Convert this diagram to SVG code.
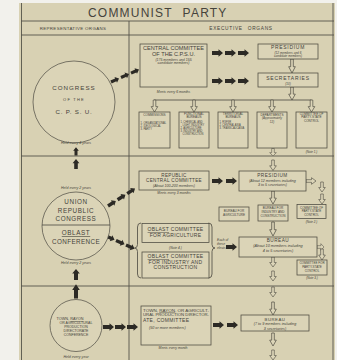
<svg xmlns="http://www.w3.org/2000/svg" width="337" height="360" viewBox="0 0 337 360">
<style>
.ln{stroke:#4a483f;stroke-width:0.8;fill:none}
.sec{stroke:#55534a;stroke-width:0.9;fill:none}
.bx{stroke:#4a483f;stroke-width:0.75;fill:#dbd4b7}
.cir{stroke:#55534a;stroke-width:0.75;fill:#dbd4b7}
.t{font-family:"Liberation Sans",Arial,sans-serif;fill:#45433b;text-anchor:middle}
.i{font-style:italic}
.l{text-anchor:start}
.ba{fill:#2c2a25}
.ha{fill:#dcd5b8;stroke:#4a483f;stroke-width:0.6}
</style>
<defs>
<path id="blk" d="M0,-2 H6.5 V-3.8 L11,0 L6.5,3.8 V2 H0 Z"/>
<path id="hol" d="M-1.3,0 V5.5 H-3.3 L0,10 L3.3,5.5 H1.3 V0 Z"/>
</defs>
<rect x="0" y="0" width="337" height="360" fill="#f2f1ec"/>
<rect x="19" y="3" width="316" height="357" fill="#d8d1b3"/>
<g id="frame">
<line class="sec" x1="21.5" y1="3" x2="21.5" y2="360"/>
<line class="sec" x1="21" y1="21" x2="334" y2="21"/>
<line class="sec" x1="21" y1="35" x2="334" y2="35"/>
<line class="sec" x1="129" y1="21" x2="129" y2="360"/>
<line class="sec" x1="21" y1="156" x2="334" y2="156"/>
<line class="sec" x1="21" y1="286" x2="334" y2="286"/>
<line class="sec" x1="333" y1="3" x2="333" y2="360"/>
</g>
<g id="title"><text class="t l" x="88" y="17.3" font-size="12" letter-spacing="1.2" word-spacing="5.5" fill="#66645a">COMMUNIST PARTY</text></g>
<g id="hdr-rep"><text class="t" x="73" y="30" font-size="4.4" letter-spacing="0.35">REPRESENTATIVE ORGANS</text></g>
<g id="hdr-exec"><text class="t" x="241" y="30.2" font-size="4.8" letter-spacing="0.7" word-spacing="3">EXECUTIVE ORGANS</text></g>

<g id="connectors">
<use href="#blk" class="ba" transform="translate(76,155.5) rotate(-90) scale(0.75)"/>
<use href="#blk" class="ba" transform="translate(76,169) rotate(-90) scale(0.9)"/>
<use href="#blk" class="ba" transform="translate(76,280) rotate(-90)"/>
<use href="#blk" class="ba" transform="translate(76,298.5) rotate(-90) scale(1.3,1)"/>
<use href="#blk" class="ba" transform="translate(111,82) rotate(-24) scale(0.8)"/>
<use href="#blk" class="ba" transform="translate(121,77.5) rotate(-24) scale(0.8)"/>
<use href="#blk" class="ba" transform="translate(131,73.1) rotate(-24) scale(0.8)"/>
<use href="#blk" class="ba" transform="translate(212,53)"/>
<use href="#blk" class="ba" transform="translate(225,53)"/>
<use href="#blk" class="ba" transform="translate(238,53)"/>
<use href="#blk" class="ba" transform="translate(212,81)"/>
<use href="#blk" class="ba" transform="translate(225,81)"/>
<use href="#blk" class="ba" transform="translate(238,81)"/>
<use href="#hol" class="ha" transform="translate(292,59) scale(1,1.4)"/>
<use href="#hol" class="ha" transform="translate(292,87) scale(1,1.3)"/>
<line class="ln" x1="154" y1="100" x2="311.5" y2="100"/>
<use href="#hol" class="ha" transform="translate(154.5,100) scale(1,1.2)"/>
<use href="#hol" class="ha" transform="translate(194,100) scale(1,1.2)"/>
<use href="#hol" class="ha" transform="translate(233,100) scale(1,1.2)"/>
<use href="#hol" class="ha" transform="translate(272,100) scale(1,1.2)"/>
<use href="#hol" class="ha" transform="translate(311.5,100) scale(1,1.2)"/>
<use href="#hol" class="ha" transform="translate(273,148.5) scale(1,0.75)"/>
<use href="#hol" class="ha" transform="translate(273,160) scale(1,1.05)"/>
<use href="#blk" class="ba" transform="translate(108,206) rotate(-33) scale(0.85)"/>
<use href="#blk" class="ba" transform="translate(117.6,199.8) rotate(-33) scale(0.85)"/>
<use href="#blk" class="ba" transform="translate(127.2,193.6) rotate(-33) scale(0.85)"/>
<use href="#blk" class="ba" transform="translate(106,236) rotate(24) scale(0.85)"/>
<use href="#blk" class="ba" transform="translate(116,240.5) rotate(24) scale(0.85)"/>
<use href="#blk" class="ba" transform="translate(126,245) rotate(24) scale(0.85)"/>
<use href="#blk" class="ba" transform="translate(212,181)"/>
<use href="#blk" class="ba" transform="translate(226,181)"/>
<use href="#hol" class="ha" transform="translate(306,181) rotate(-90)"/>
<use href="#hol" class="ha" transform="translate(322,182)"/>
<use href="#hol" class="ha" transform="translate(322,194)"/>
<use href="#hol" class="ha" transform="translate(273,191) scale(1,1.3)"/>
<use href="#hol" class="ha" transform="translate(273,222) scale(1,1.4)"/>
<use href="#blk" class="ba" transform="translate(226,247)"/>
<use href="#hol" class="ha" transform="translate(317,247) rotate(-90) scale(1,0.7)"/>
<use href="#hol" class="ha" transform="translate(322,249) scale(1,1.1)"/>
<use href="#hol" class="ha" transform="translate(273,257)"/>
<use href="#hol" class="ha" transform="translate(273,271)"/>
<use href="#hol" class="ha" transform="translate(273,287)"/>
<use href="#hol" class="ha" transform="translate(273,302) scale(1,1.3)"/>
<use href="#hol" class="ha" transform="translate(273,333) scale(1,1.3)"/>
<use href="#hol" class="ha" transform="translate(273,350)"/>
<use href="#blk" class="ba" transform="translate(103,327)"/>
<use href="#blk" class="ba" transform="translate(115,327)"/>
<use href="#blk" class="ba" transform="translate(127,327)"/>
<use href="#blk" class="ba" transform="translate(213,325)"/>
<use href="#blk" class="ba" transform="translate(227,325)"/>
</g>

<g id="congress">
<circle class="cir" cx="74" cy="102" r="41"/>
<text class="t" x="74" y="90.2" font-size="6.2" letter-spacing="1">CONGRESS</text>
<text class="t" x="74" y="100.6" font-size="4" letter-spacing="1.2">OF THE</text>
<text class="t" x="74" y="114.2" font-size="6.2" letter-spacing="0.8">C. P. S. U.</text>
<text class="t i" x="76" y="144" font-size="3.6">Held every 4 years</text>
</g>
<g id="central-committee">
<rect class="bx" x="140" y="44" width="67" height="43"/>
<text class="t" x="173.5" y="50" font-size="5.6">CENTRAL COMMITTEE</text>
<text class="t" x="173.5" y="56.2" font-size="5.6">OF THE C.P.S.U.</text>
<text class="t i" x="173.5" y="60.6" font-size="3.5">(175 members and 155</text>
<text class="t i" x="173.5" y="64.4" font-size="3.5">candidate members)</text>
<text class="t i" x="173.5" y="93.3" font-size="3.4">Meets every 6 months</text>
</g>
<g id="presidium">
<rect class="bx" x="258" y="44" width="60" height="15"/>
<text class="t" x="288" y="49.2" font-size="5" letter-spacing="0.7">PRESIDIUM</text>
<text class="t i" x="288" y="53.5" font-size="3.1">(12 members and 6</text>
<text class="t i" x="288" y="57.2" font-size="3.1">candidate members)</text>
</g>
<g id="secretaries">
<rect class="bx" x="258" y="73" width="60" height="14"/>
<text class="t" x="288" y="80" font-size="5" letter-spacing="0.8">SECRETARIES</text>
<text class="t i" x="288" y="85" font-size="3">(10)</text>
</g>
<g id="commissions">
<rect class="bx" x="139" y="112" width="31" height="36"/>
<text class="t" x="154.5" y="116.2" font-size="3.1">COMMISSIONS</text>
<text class="t l" x="140.6" y="123.6" font-size="2.6">1. ORGANIZATIONAL</text>
<text class="t l" x="140.6" y="126.7" font-size="2.6">2. IDEOLOGICAL</text>
<text class="t l" x="140.6" y="129.8" font-size="2.6">3. PARTY</text>
</g>
<g id="functional-bureaus">
<rect class="bx" x="179" y="112" width="30" height="36"/>
<text class="t" x="194" y="115.2" font-size="3.1">FUNCTIONAL</text>
<text class="t" x="194" y="118.4" font-size="3.1">BUREAUS</text>
<text class="t l" x="180.4" y="123" font-size="2.6">1. CHEMICAL AND</text>
<text class="t l" x="182.6" y="126" font-size="2.6">LIGHT INDUSTRY</text>
<text class="t l" x="180.4" y="129" font-size="2.6">2. AGRICULTURE</text>
<text class="t l" x="180.4" y="132" font-size="2.6">3. INDUSTRY AND</text>
<text class="t l" x="182.6" y="135" font-size="2.6">CONSTRUCTION</text>
</g>
<g id="territorial-bureaus">
<rect class="bx" x="218" y="112" width="30" height="36"/>
<text class="t" x="233" y="115.2" font-size="3.1">TERRITORIAL</text>
<text class="t" x="233" y="118.4" font-size="3.1">BUREAUS</text>
<text class="t l" x="219.4" y="123" font-size="2.6">1. RSFSR</text>
<text class="t l" x="219.4" y="126" font-size="2.6">2. CENTRAL ASIA</text>
<text class="t l" x="219.4" y="129" font-size="2.6">3. TRANSCAUCASIA</text>
</g>
<g id="departments">
<rect class="bx" x="257" y="112" width="30" height="36"/>
<text class="t" x="272" y="116" font-size="3.1">DEPARTMENTS</text>
<text class="t i" x="272" y="119.3" font-size="3">(Approximately</text>
<text class="t i" x="272" y="123" font-size="3">12)</text>
</g>
<g id="party-state-control-1">
<rect class="bx" x="296" y="112" width="31" height="36"/>
<text class="t" x="311.5" y="115.2" font-size="3.1">COMMITTEE OF</text>
<text class="t" x="311.5" y="118.4" font-size="3.1">PARTY-STATE</text>
<text class="t" x="311.5" y="122.3" font-size="3.1">CONTROL</text>
<text class="t i" x="311.5" y="153.3" font-size="3">(Note 1.)</text>
</g>

<g id="union-republic">
<circle class="cir" cx="76" cy="226" r="34"/>
<line class="ln" x1="42" y1="225" x2="110" y2="225"/>
<text class="t i" x="76" y="189.2" font-size="3.6">Held every 2 years</text>
<text class="t" x="76" y="204.3" font-size="6.3" letter-spacing="0.6">UNION</text>
<text class="t" x="76" y="212.8" font-size="6.3" letter-spacing="0.6">REPUBLIC</text>
<text class="t" x="76" y="221.3" font-size="6.3" letter-spacing="0.6">CONGRESS</text>
<text class="t" x="76" y="235.3" font-size="6.3" letter-spacing="0.6" text-decoration="underline">OBLAST</text>
<text class="t" x="76" y="244.3" font-size="6.3" letter-spacing="0.4">CONFERENCE</text>
<text class="t i" x="76" y="264.3" font-size="3.6">Held every 2 years</text>
</g>
<g id="republic-cc">
<rect class="bx" x="139" y="171" width="70" height="19"/>
<text class="t" x="174" y="176.6" font-size="4.6" letter-spacing="0.3">REPUBLIC</text>
<text class="t" x="174" y="181.8" font-size="4.6" letter-spacing="0.35">CENTRAL COMMITTEE</text>
<text class="t i" x="174" y="186.6" font-size="3.6">(About 100-200 members)</text>
<text class="t i" x="174" y="194.2" font-size="3.4">Meets every 3 months</text>
</g>
<g id="republic-presidium">
<rect class="bx" x="239" y="171" width="67" height="20"/>
<text class="t" x="272.5" y="176.8" font-size="4.7" letter-spacing="0.5">PRESIDIUM</text>
<text class="t i" x="272.5" y="181.6" font-size="3.6">(About 12 members including</text>
<text class="t i" x="272.5" y="186.3" font-size="3.6">3 to 5 secretaries)</text>
</g>
<g id="bureau-agriculture">
<rect class="bx" x="219" y="207" width="30" height="14"/>
<text class="t" x="234" y="212.3" font-size="3.1">BUREAU FOR</text>
<text class="t" x="234" y="216.3" font-size="3.1">AGRICULTURE</text>
</g>
<g id="bureau-industry">
<rect class="bx" x="258" y="205" width="30" height="16"/>
<text class="t" x="273" y="209.2" font-size="3.1">BUREAU FOR</text>
<text class="t" x="273" y="213" font-size="3.1">INDUSTRY AND</text>
<text class="t" x="273" y="216.8" font-size="3.1">CONSTRUCTION</text>
</g>
<g id="party-state-control-2">
<rect class="bx" x="297" y="204.5" width="29" height="14"/>
<text class="t" x="311.5" y="208.7" font-size="3">COMMITTEE OF</text>
<text class="t" x="311.5" y="212.3" font-size="3">PARTY-STATE</text>
<text class="t" x="311.5" y="215.9" font-size="3">CONTROL</text>
<text class="t i" x="311.5" y="223.3" font-size="3">(Note 2.)</text>
</g>
<g id="oblast-committees">
<path class="ln" d="M141,223 Q137.5,223 137.5,227 V244.5 Q137.5,248 134.5,248 Q137.5,248 137.5,251.5 V274 Q137.5,278 141,278"/>
<path class="ln" d="M208.5,223 Q212,223 212,227 V244.5 Q212,248 215,248 Q212,248 212,251.5 V274 Q212,278 208.5,278"/>
<rect class="bx" x="142" y="223.5" width="67" height="19"/>
<text class="t" x="175.5" y="231.3" font-size="5" letter-spacing="0.3"><tspan text-decoration="underline">OBLAST</tspan> COMMITTEE</text>
<text class="t" x="175.5" y="237.3" font-size="5" letter-spacing="0.3">FOR AGRICULTURE</text>
<text class="t i" x="175.5" y="248.6" font-size="3.3">(Note 4.)</text>
<rect class="bx" x="142" y="252" width="67" height="26"/>
<text class="t" x="175.5" y="258.3" font-size="5" letter-spacing="0.3"><tspan text-decoration="underline">OBLAST</tspan> COMMITTEE</text>
<text class="t" x="175.5" y="263.6" font-size="5" letter-spacing="0.3">FOR INDUSTRY AND</text>
<text class="t" x="175.5" y="268.9" font-size="5" letter-spacing="0.3">CONSTRUCTION</text>
<text class="t i l" x="217" y="241" font-size="3.3">Each of</text>
<text class="t i l" x="217" y="245" font-size="3.3">these</text>
<text class="t i l" x="217" y="249" font-size="3.3">elects</text>
</g>
<g id="oblast-bureau">
<rect class="bx" x="239" y="237" width="78" height="20"/>
<text class="t" x="278" y="242" font-size="4.7" letter-spacing="0.5">BUREAU</text>
<text class="t i" x="278" y="247.2" font-size="3.8">(About 10 members including</text>
<text class="t i" x="278" y="251.8" font-size="3.8">4 to 5 secretaries)</text>
</g>
<g id="party-state-control-3">
<rect class="bx" x="297" y="260" width="30" height="15"/>
<text class="t" x="312" y="264" font-size="3">COMMITTEE FOR</text>
<text class="t" x="312" y="267.8" font-size="3">PARTY-STATE</text>
<text class="t" x="312" y="271.6" font-size="3">CONTROL</text>
<text class="t i" x="312" y="278.6" font-size="3">(Note 3.)</text>
</g>

<g id="town-conference">
<circle class="cir" cx="76" cy="325.5" r="26"/>
<text class="t" x="70" y="320.3" font-size="3.8">TOWN, <tspan text-decoration="underline">RAYON</tspan></text>
<text class="t" x="76" y="324.2" font-size="3.5">OR AGRICULTURAL</text>
<text class="t" x="76" y="328.2" font-size="3.5">PRODUCTION</text>
<text class="t" x="76" y="332.2" font-size="3.5">DIRECTORATE</text>
<text class="t" x="76" y="336.2" font-size="3.5">CONFERENCE</text>
<text class="t i" x="76" y="358.3" font-size="3.6">Held every year</text>
</g>
<g id="town-committee">
<rect class="bx" x="141" y="306" width="70" height="39"/>
<text class="t l" x="143" y="311.5" font-size="4" textLength="66" lengthAdjust="spacingAndGlyphs">TOWN, <tspan text-decoration="underline">RAYON</tspan>, OR AGRICULT-</text>
<text class="t l" x="143" y="316" font-size="4" textLength="66" lengthAdjust="spacingAndGlyphs">URAL PRODUCTION DIRECTOR-</text>
<text class="t l" x="143" y="322" font-size="5" letter-spacing="0.3">ATE, COMMITTEE</text>
<text class="t i l" x="149" y="329" font-size="3.7">(50 or more members)</text>
<text class="t i" x="173" y="349.3" font-size="3.4">Meets every month</text>
</g>
<g id="town-bureau">
<rect class="bx" x="241" y="315" width="68" height="16"/>
<text class="t" x="275" y="320.6" font-size="4.3" letter-spacing="0.5">BUREAU</text>
<text class="t i" x="275" y="325.4" font-size="3.7">(7 to 9 members including</text>
<text class="t i" x="275" y="329.8" font-size="3.7">3 secretaries)</text>
</g>
</svg>
